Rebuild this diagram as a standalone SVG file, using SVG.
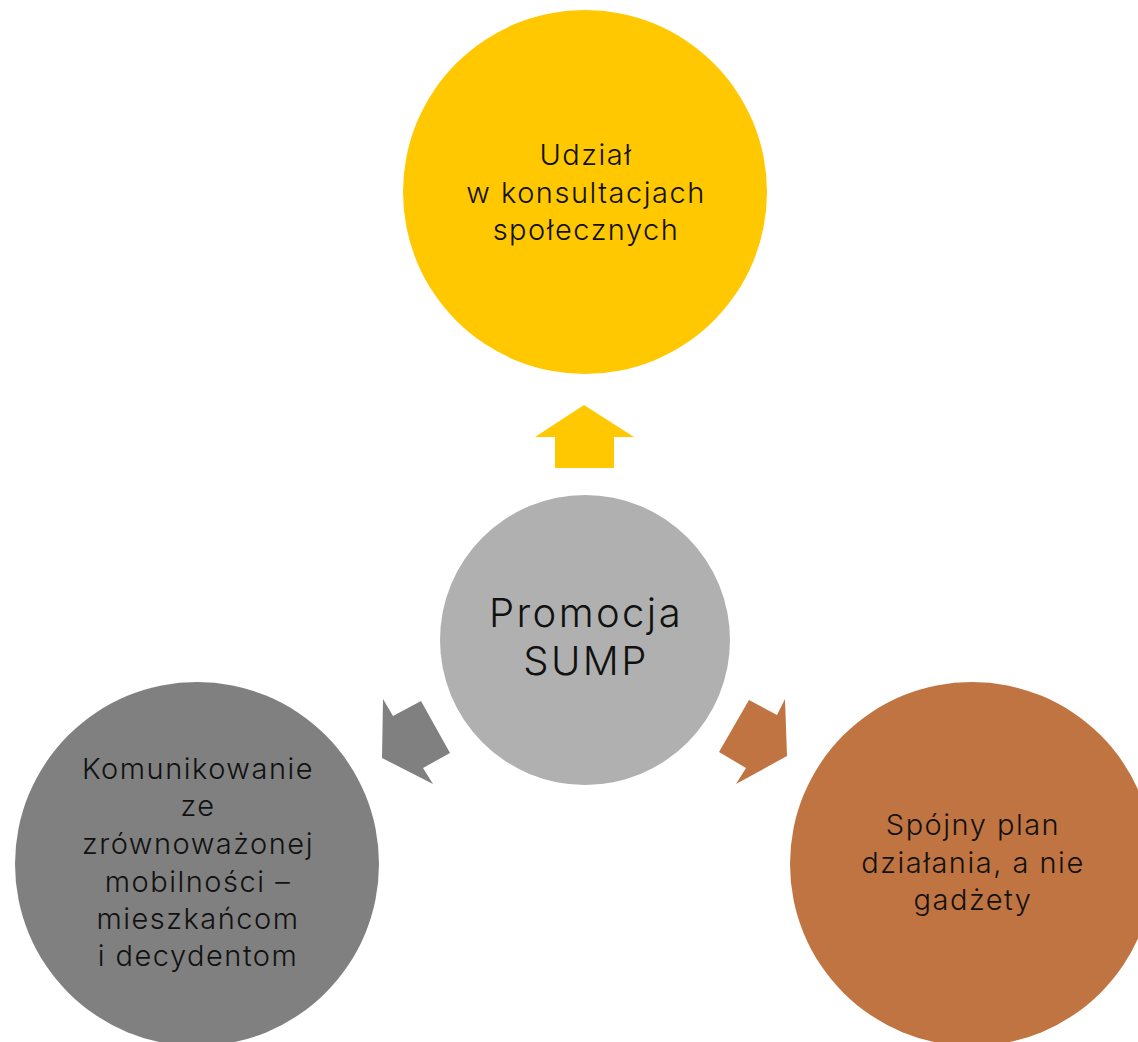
<svg xmlns="http://www.w3.org/2000/svg" width="1138" height="1042" viewBox="0 0 1138 1042">
<style>
text{font-family:"Inter","Lato","Liberation Sans",sans-serif;font-weight:300;fill:#111;text-anchor:middle}
.s{font-size:29px;letter-spacing:1.5px}
.b{font-size:40px;letter-spacing:2.4px}
</style>
<rect width="1138" height="1042" fill="#fff"/>
<g id="connectors">
<polygon points="584,405 634,437 614,437 614,468 555,468 555,437 535,437" fill="#FFC800"/>
<polygon points="382,758 383,699 393,716 421,701 450,753 423,768 433,784" fill="#808080"/>
<polygon points="787,756 785,699 777,715 749,700 719,752 746,768 736,784" fill="#C07441"/>
</g>
<g id="top">
<circle cx="585" cy="192" r="182" fill="#FFC800"/>
<text class="s" x="586" y="165">Udział</text>
<text class="s" x="586" y="203">w konsultacjach</text>
<text class="s" x="586" y="240">społecznych</text>
</g>
<g id="center">
<circle cx="585" cy="640" r="145" fill="#B0B0B0"/>
<text class="b" x="586" y="627">Promocja</text>
<text class="b" x="586" y="675">SUMP</text>
</g>
<g id="left">
<circle cx="197" cy="864" r="182" fill="#808080"/>
<text class="s" x="198" y="779">Komunikowanie</text>
<text class="s" x="198" y="816">ze</text>
<text class="s" x="198" y="854">zrównoważonej</text>
<text class="s" x="198" y="892">mobilności –</text>
<text class="s" x="198" y="929">mieszkańcom</text>
<text class="s" x="198" y="966">i decydentom</text>
</g>
<g id="right">
<circle cx="972" cy="864" r="182" fill="#C07441"/>
<text class="s" x="973" y="835">Spójny plan</text>
<text class="s" x="973" y="873">działania, a nie</text>
<text class="s" x="973" y="910">gadżety</text>
</g>
</svg>
